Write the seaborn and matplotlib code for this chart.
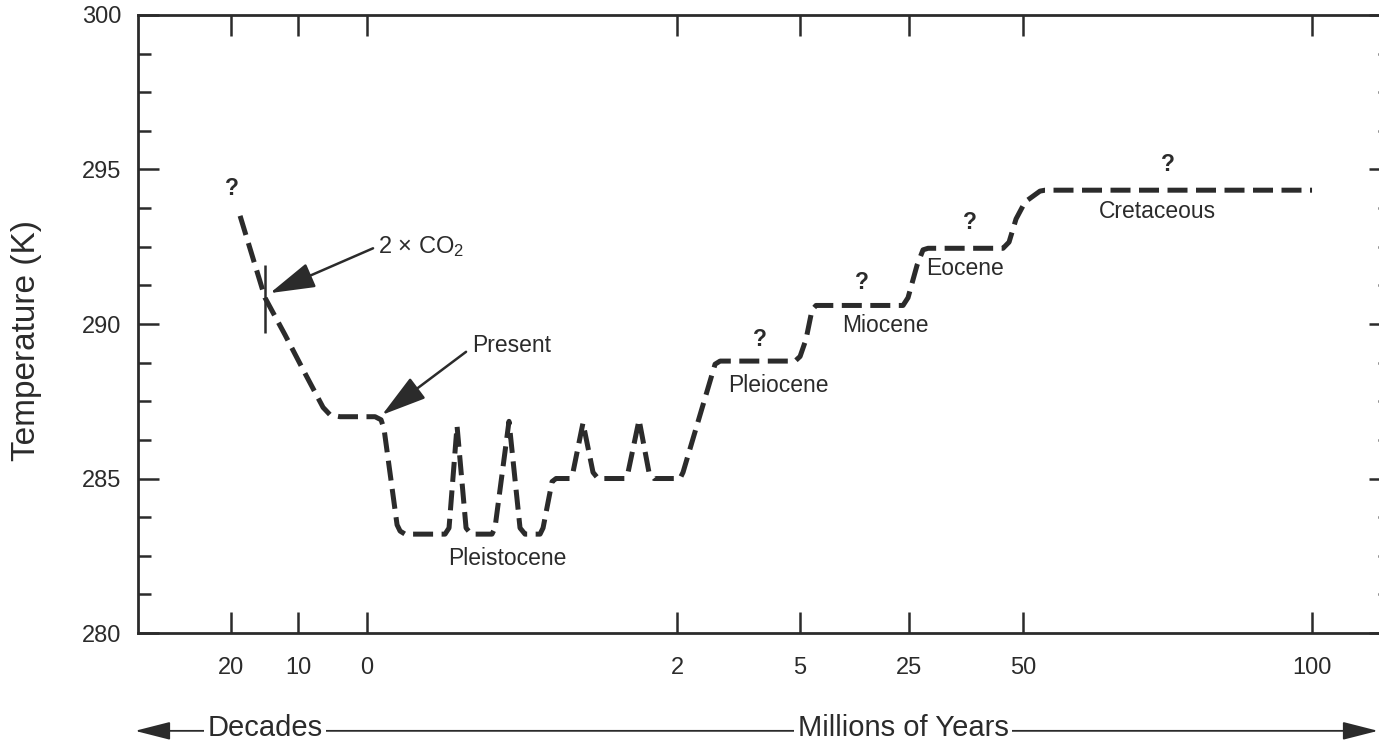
import matplotlib
matplotlib.use("Agg")
import matplotlib.pyplot as plt
from matplotlib.ticker import MultipleLocator
import pandas as pd
import seaborn as sns

# Position along the (non-linear) time axis, 0-100 across the frame
tick_positions = [7.43, 12.78, 18.29, 43.05, 52.88, 61.58, 70.69, 93.77]
tick_labels = ["20", "10", "0", "2", "5", "25", "50", "100"]

# Global mean temperature history (K)
history_pos = [8.15, 10.14, 11.74, 13.34, 14.78, 15.34, 16.13, 18.93, 19.41, 19.65,
               20.69, 20.93, 21.33, 24.52, 24.84, 25.48, 26.20, 26.60, 28.27, 28.51,
               29.63, 30.51, 30.91, 32.11, 32.35, 33.07, 33.39, 34.50, 34.74, 35.54,
               36.34, 36.74, 38.90, 39.14, 40.02, 40.81, 41.21, 43.29, 43.53, 46.09,
               46.49, 52.48, 52.88, 53.35, 53.83, 54.15, 61.10, 61.50, 62.22, 62.70,
               63.10, 69.09, 69.57, 70.13, 70.85, 72.04, 72.44, 93.77]
history_temp = [293.5, 290.85, 289.65, 288.4, 287.3, 287.06, 287.0, 287.0, 286.9, 286.6,
                283.5, 283.3, 283.2, 283.2, 283.4, 286.7, 283.4, 283.2, 283.2, 283.4,
                286.85, 283.4, 283.2, 283.2, 283.4, 284.9, 285.0, 285.0, 285.2, 286.8,
                285.2, 285.0, 285.0, 285.2, 286.9, 285.2, 285.0, 285.0, 285.2, 288.7,
                288.8, 288.8, 288.95, 289.5, 290.45, 290.6, 290.6, 290.85, 291.9, 292.4,
                292.45, 292.45, 292.65, 293.4, 293.95, 294.3, 294.33, 294.33]

# Epoch labels: text, position, temperature
epoch_names = ["Pleistocene", "Pleiocene", "Miocene", "Eocene", "Cretaceous"]
epoch_pos = [29.47, 51.12, 59.66, 66.05, 81.39]
epoch_temp = [282.4, 288.0, 289.95, 291.8, 293.65]

# Uncertainty marks
query_pos = [7.51, 49.68, 57.83, 66.45, 82.27]
query_temp = [294.4, 289.5, 291.35, 293.3, 295.15]

# Doubled-CO2 marker
co2_pos = 10.14
co2_temp_range = [289.7, 291.9]

ink = "#2b2b2b"

sns.set_theme(style="white")
plt.rcParams["font.family"] = ["Liberation Sans", "DejaVu Sans"]
plt.rcParams["mathtext.fontset"] = "custom"
plt.rcParams["mathtext.rm"] = "Liberation Sans"
plt.rcParams["mathtext.it"] = "Liberation Sans:italic"

fig = plt.figure(figsize=(13.79, 7.45), dpi=100)
ax = fig.add_axes([0.1001, 0.1503, 0.9079, 0.8296])
ax.set_xlim(0, 100)
ax.set_ylim(280, 300)

df = pd.DataFrame({"pos": history_pos, "temp": history_temp})
sns.lineplot(data=df, x="pos", y="temp", sort=False, estimator=None,
             color=ink, lw=3.6, ax=ax)
line = ax.lines[0]
line.set_dashes([4, 1.7])
line.set_dash_capstyle("butt")

# doubled CO2 marker
ax.vlines(co2_pos, co2_temp_range[0], co2_temp_range[1], color=ink, lw=1.8)

# axes, ticks
ax.set_xticks(tick_positions)
ax.set_xticklabels(tick_labels)
ax.set_yticks([280, 285, 290, 295, 300])
ax.yaxis.set_minor_locator(MultipleLocator(1.25))
ax.tick_params(axis="both", which="both", direction="in", top=True, right=True,
               bottom=True, left=True, color=ink, labelcolor=ink, width=1.8)
ax.tick_params(which="major", length=15)
ax.tick_params(which="minor", length=9)
ax.tick_params(axis="x", pad=17, labelsize=17)
ax.tick_params(axis="y", pad=12, labelsize=17)
for sp in ax.spines.values():
    sp.set_linewidth(2)
    sp.set_color(ink)
ax.set_xlabel("")
ax.set_ylabel("Temperature (K)", fontsize=24, color=ink)
ax.yaxis.set_label_coords(-0.0765, 0.474)

# annotations
for name, x, y in zip(epoch_names, epoch_pos, epoch_temp):
    ax.text(x, y, name, ha="center", va="center", fontsize=16.5, color=ink)
for x, y in zip(query_pos, query_temp):
    ax.text(x, y, "?", ha="center", va="center", fontsize=16.5, color=ink,
            fontweight="bold")

ax.text(19.17, 292.5, r"2 $\times$ CO$_2$", ha="left", va="center",
        fontsize=17, color=ink)
ax.annotate("", xy=(10.54, 291.0), xytext=(18.77, 292.45),
            arrowprops=dict(arrowstyle="-|>,head_length=1.4,head_width=0.4",
                            mutation_scale=20, lw=1.8, color=ink,
                            shrinkA=0, shrinkB=0))
ax.text(26.68, 289.3, "Present", ha="left", va="center", fontsize=16.5, color=ink)
ax.annotate("", xy=(19.49, 287.06), xytext=(26.2, 289.1),
            arrowprops=dict(arrowstyle="-|>,head_length=1.4,head_width=0.4",
                            mutation_scale=20, lw=1.8, color=ink,
                            shrinkA=0, shrinkB=0))

# time-scale arrow below the axis
row_y = 0.019
fig.add_artist(matplotlib.patches.FancyArrowPatch(
    (135 / 1379, row_y), (1378 / 1379, row_y), transform=fig.transFigure,
    arrowstyle="<|-|>,head_length=1.1,head_width=0.28", mutation_scale=20,
    lw=1.3, color=ink, shrinkA=0, shrinkB=0))
for label, xc in [("Decades", 265 / 1379), ("Millions of Years", 903 / 1379)]:
    fig.text(xc, row_y + 0.004, label, ha="center", va="center", fontsize=21,
             color=ink, bbox=dict(boxstyle="square,pad=0.12", fc="white", ec="none"))

fig.savefig("out.png", dpi=100)
